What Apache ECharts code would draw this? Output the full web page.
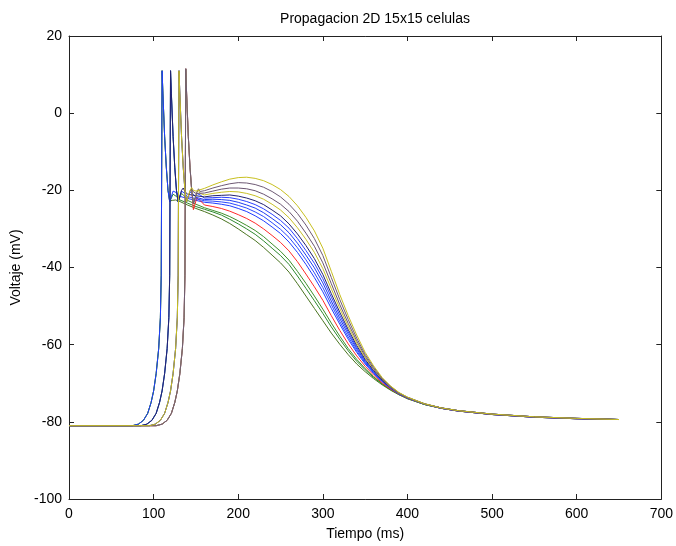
<!DOCTYPE html>
<html>
<head>
<meta charset="utf-8">
<script src="https://cdn.jsdelivr.net/npm/echarts@6/dist/echarts.min.js"></script>
<style>html,body{margin:0;padding:0;background:#fff}#c{width:676px;height:546px}</style>
</head>
<body>
<div id="c"></div>
<script>
const titulo = 'Propagacion 2D 15x15 celulas';
const xTicks = [0, 100, 200, 300, 400, 500, 600, 700];
const yTicks = [-100, -80, -60, -40, -20, 0, 20];

// Common time grid (ms) for plateau and repolarisation
const tMeseta = [160,170,180,190,200,210,220,230,240,250,260,270,280,290,300,310,320,330,340,350,360,370,380,390,400,420,440,460,500,550,600,650];

// Upstroke / early part of each cell: [tiempo, voltaje]
const inicio1 = [[0,-81],[95,-81],[102,-80.6],[108,-79.6],[113,-77.8],[117,-75],[120,-72],[123,-67.5],[126,-61],[128,-53],[129,-42],[130,11],[131,5],[133,-6],[135,-14],[137,-20],[139,-23],[141,-22.5],[143,-20],[145,-19.3],[147,-20],[150,-20.2]];
const inicio2 = [[0,-81],[103,-81],[110,-80.6],[116,-79.6],[121,-77.8],[125,-75],[128,-72],[131,-67.5],[134,-61],[136,-53],[137,-42],[138,11.5],[139,5],[141,-6],[143,-14],[145,-20],[147,-23.5],[149,-23],[151,-20.5],[153,-19.6],[155,-20.3]];
const inicio3 = [[0,-81],[95,-81],[102,-80.6],[108,-79.6],[113,-77.8],[117,-75],[120,-72],[123,-67.5],[126,-61],[128,-53],[129,-42],[130,11],[131,5],[133,-6],[135,-14],[137,-20],[139,-23],[141,-22.5],[143,-20.2],[145,-19.6],[147,-20.4],[150,-20.8]];
const inicio4 = [[0,-81],[103,-81],[110,-80.6],[116,-79.6],[121,-77.8],[125,-75],[128,-72],[131,-67.5],[134,-61],[136,-53],[137,-42],[138,11.5],[139,5],[141,-6],[143,-14],[145,-20],[147,-23.5],[149,-23],[151,-20.6],[153,-20],[155,-20.8]];
const inicio5 = [[0,-81],[85,-81],[92,-80.6],[98,-79.6],[103,-77.8],[107,-75],[110,-72],[113,-67.5],[116,-61],[118,-53],[119,-42],[120,11],[121,5],[123,-6],[125,-14],[127,-20],[129,-23],[131,-22.5],[133,-20],[135,-19.4],[137,-20.3],[140,-21],[150,-21.4]];
const inicio6 = [[0,-81],[103,-81],[110,-80.6],[116,-79.6],[121,-77.8],[125,-75],[128,-72],[131,-67.5],[134,-61],[136,-53],[137,-42],[138,11.5],[139,5],[141,-6],[143,-14],[145,-20],[147,-23.5],[149,-23],[151,-20.8],[153,-20.3],[155,-21.2]];
const inicio7 = [[0,-81],[95,-81],[102,-80.6],[108,-79.6],[113,-77.8],[117,-75],[120,-72],[123,-67.5],[126,-61],[128,-53],[129,-42],[130,11],[131,5],[133,-6],[135,-14],[137,-20],[139,-23],[141,-22.5],[143,-20.4],[145,-20],[147,-21],[150,-21.8]];
const inicio8 = [[0,-81],[85,-81],[92,-80.6],[98,-79.6],[103,-77.8],[107,-75],[110,-72],[113,-67.5],[116,-61],[118,-53],[119,-42],[120,11],[121,5],[123,-6],[125,-14],[127,-20],[129,-23],[131,-22.5],[133,-20.2],[135,-19.8],[137,-20.8],[140,-21.6],[150,-22.2]];
const inicio9 = [[0,-81],[75,-81],[82,-80.6],[88,-79.6],[93,-77.8],[97,-75],[100,-72],[103,-67.5],[106,-61],[108,-53],[109,-42],[110,11],[111,5],[113,-6],[115,-14],[117,-20],[119,-23],[121,-22.5],[123,-20.2],[125,-19.7],[127,-20.6],[130,-21.5],[140,-22.1],[150,-22.6]];
const inicio10 = [[0,-81],[103,-81],[110,-80.6],[116,-79.6],[121,-77.8],[125,-75],[128,-72],[131,-67.5],[134,-61],[136,-53],[137,-42],[138,11.5],[139,5],[141,-6],[143,-14],[145,-20],[147,-25],[149,-24.5],[151,-22],[153,-21.6],[155,-22.6]];
const inicio11 = [[0,-81],[85,-81],[92,-80.6],[98,-79.6],[103,-77.8],[107,-75],[110,-72],[113,-67.5],[116,-61],[118,-53],[119,-42],[120,11],[121,5],[123,-6],[125,-14],[127,-20],[129,-23],[131,-22.7],[133,-20.8],[135,-20.6],[137,-21.6],[140,-22.6],[150,-23.6]];
const inicio12 = [[0,-81],[75,-81],[82,-80.6],[88,-79.6],[93,-77.8],[97,-75],[100,-72],[103,-67.5],[106,-61],[108,-53],[109,-42],[110,11],[111,5],[113,-6],[115,-14],[117,-20],[119,-23],[121,-22.7],[123,-21],[125,-20.8],[127,-21.6],[130,-22.4],[140,-23.3],[150,-24.2]];
const inicio13 = [[0,-81],[75,-81],[82,-80.6],[88,-79.6],[93,-77.8],[97,-75],[100,-72],[103,-67.5],[106,-61],[108,-53],[109,-42],[110,11],[111,5],[113,-6],[115,-14],[117,-20],[119,-22.8],[122,-22.6],[126,-22.5],[130,-22.8],[140,-23.8],[150,-24.7]];

// Plateau / repolarisation voltages (mV) on tMeseta
const meseta1 = [-19.5,-18.6,-17.8,-17.1,-16.7,-16.6,-16.9,-17.5,-18.5,-19.8,-21.6,-24.0,-27.0,-30.5,-35.0,-41.0,-47.0,-52.5,-57.5,-62.0,-65.5,-68.5,-70.7,-72.4,-73.6,-75.3,-76.4,-77.1,-78.0,-78.7,-79.1,-79.4];
const meseta2 = [-20.1,-19.4,-18.8,-18.3,-18.0,-18.1,-18.5,-19.2,-20.3,-21.7,-23.6,-26.0,-29.0,-32.5,-36.9,-42.6,-48.3,-53.5,-58.3,-62.5,-65.8,-68.7,-70.8,-72.5,-73.6,-75.3,-76.4,-77.1,-78.0,-78.7,-79.1,-79.4];
const meseta3 = [-20.7,-20.2,-19.7,-19.4,-19.4,-19.6,-20.1,-21.0,-22.2,-23.6,-25.5,-28.0,-31.1,-34.5,-38.8,-44.2,-49.6,-54.5,-59.0,-63.0,-66.2,-68.9,-70.9,-72.5,-73.7,-75.3,-76.4,-77.1,-78.0,-78.7,-79.1,-79.4];
const meseta4 = [-21.2,-20.8,-20.5,-20.3,-20.4,-20.8,-21.4,-22.3,-23.6,-25.1,-27.1,-29.7,-32.7,-36.1,-40.3,-45.5,-50.6,-55.3,-59.6,-63.4,-66.4,-69.0,-71.0,-72.6,-73.7,-75.4,-76.4,-77.1,-78.0,-78.7,-79.1,-79.4];
const meseta5 = [-21.7,-21.4,-21.3,-21.2,-21.5,-22.0,-22.7,-23.7,-25.1,-26.6,-28.7,-31.3,-34.3,-37.7,-41.8,-46.8,-51.6,-56.1,-60.2,-63.8,-66.7,-69.2,-71.1,-72.6,-73.7,-75.4,-76.4,-77.1,-78.0,-78.7,-79.1,-79.4];
const meseta6 = [-22.0,-21.9,-21.8,-21.9,-22.3,-22.9,-23.7,-24.8,-26.2,-27.8,-29.8,-32.5,-35.6,-38.9,-42.9,-47.7,-52.4,-56.7,-60.7,-64.1,-66.9,-69.3,-71.2,-72.7,-73.8,-75.4,-76.4,-77.1,-78.0,-78.7,-79.1,-79.4];
const meseta7 = [-22.4,-22.3,-22.4,-22.6,-23.1,-23.8,-24.6,-25.8,-27.3,-28.9,-31.0,-33.7,-36.8,-40.1,-44.0,-48.7,-53.2,-57.3,-61.1,-64.4,-67.1,-69.4,-71.2,-72.7,-73.8,-75.4,-76.4,-77.1,-78.0,-78.7,-79.1,-79.4];
const meseta8 = [-22.7,-22.8,-23.0,-23.3,-23.9,-24.6,-25.6,-26.8,-28.4,-30.1,-32.2,-34.9,-38.0,-41.4,-45.2,-49.6,-54.0,-58.0,-61.6,-64.7,-67.3,-69.5,-71.3,-72.7,-73.8,-75.4,-76.5,-77.2,-78.1,-78.8,-79.2,-79.4];
const meseta9 = [-23.1,-23.3,-23.6,-24.0,-24.7,-25.5,-26.6,-27.9,-29.5,-31.2,-33.4,-36.1,-39.2,-42.6,-46.3,-50.6,-54.7,-58.6,-62.0,-65.0,-67.5,-69.6,-71.4,-72.8,-73.8,-75.4,-76.5,-77.2,-78.1,-78.8,-79.2,-79.4];
const meseta10 = [-23.8,-24.2,-24.7,-25.4,-26.3,-27.3,-28.5,-30.0,-31.7,-33.5,-35.7,-38.5,-41.7,-45.0,-48.5,-52.5,-56.3,-59.8,-62.9,-65.6,-67.9,-69.9,-71.5,-72.8,-73.9,-75.4,-76.5,-77.2,-78.1,-78.8,-79.2,-79.4];
const meseta11 = [-24.5,-25.2,-25.9,-26.8,-27.9,-29.1,-30.4,-32.0,-33.9,-35.8,-38.1,-41.0,-44.1,-47.4,-50.8,-54.4,-57.8,-61.0,-63.8,-66.2,-68.3,-70.1,-71.6,-72.9,-73.9,-75.5,-76.5,-77.2,-78.1,-78.8,-79.2,-79.4];
const meseta12 = [-24.9,-25.6,-26.4,-27.5,-28.7,-30.0,-31.4,-33.1,-35.0,-36.9,-39.2,-42.2,-45.4,-48.6,-51.9,-55.4,-58.6,-61.6,-64.3,-66.5,-68.5,-70.2,-71.7,-72.9,-74.0,-75.5,-76.5,-77.2,-78.1,-78.8,-79.2,-79.4];
const meseta13 = [-25.5,-26.4,-27.4,-28.6,-30.0,-31.5,-33.0,-34.8,-36.8,-38.8,-41.2,-44.2,-47.4,-50.6,-53.8,-57.0,-59.9,-62.6,-65.0,-67.0,-68.8,-70.4,-71.8,-73.0,-74.0,-75.5,-76.5,-77.2,-78.1,-78.8,-79.2,-79.4];

const inicios = [inicio13, inicio12, inicio11, inicio9, inicio10, inicio8, inicio7, inicio6, inicio5, inicio4, inicio3, inicio2, inicio1];
const mesetas = [meseta13, meseta12, meseta11, meseta9, meseta10, meseta8, meseta7, meseta6, meseta5, meseta4, meseta3, meseta2, meseta1];
const colores = ['#4a7420', '#2f8a2f', '#3d8f2a', '#1f3cff', '#ff2a2a', '#2a48ff', '#1f3cf0', '#2a40ff', '#22226e', '#c8c028', '#6a5470', '#6e5a74', '#c8c020'];

const chart = echarts.init(document.getElementById('c'), null, {renderer: 'canvas'});
const font = 'Liberation Sans, Arial, sans-serif';
const tickLine = {show: true, inside: true, length: 5, lineStyle: {color: '#222', width: 1}};
const axisLine = {show: true, onZero: false, lineStyle: {color: '#222', width: 1}};
chart.setOption({
  animation: false,
  backgroundColor: '#fff',
  title: {text: titulo, left: 370, top: 7, textAlign: 'center',
    textStyle: {fontFamily: font, fontSize: 14, fontWeight: 'normal', color: '#000'}},
  grid: {left: 69, right: 13, top: 36, bottom: 42, containLabel: false},
  xAxis: [
    {type: 'value', min: xTicks[0], max: xTicks[xTicks.length-1], interval: 100, position: 'bottom',
     name: 'Tiempo (ms)', nameLocation: 'middle', nameGap: 28,
     nameTextStyle: {fontFamily: font, fontSize: 14, color: '#000'},
     axisLine: axisLine, axisTick: tickLine, splitLine: {show: false},
     axisLabel: {fontFamily: font, fontSize: 14, color: '#000', margin: 8}},
    {type: 'value', min: xTicks[0], max: xTicks[xTicks.length-1], interval: 100, position: 'top',
     axisLine: axisLine, axisTick: tickLine, splitLine: {show: false}, axisLabel: {show: false}}
  ],
  yAxis: [
    {type: 'value', min: yTicks[0], max: yTicks[yTicks.length-1], interval: 20, position: 'left',
     name: 'Voltaje (mV)', nameLocation: 'middle', nameGap: 42, nameRotate: 90,
     nameTextStyle: {fontFamily: font, fontSize: 14, color: '#000'},
     axisLine: axisLine, axisTick: tickLine, splitLine: {show: false},
     axisLabel: {fontFamily: font, fontSize: 14, color: '#000', margin: 7}},
    {type: 'value', min: yTicks[0], max: yTicks[yTicks.length-1], interval: 20, position: 'right',
     axisLine: axisLine, axisTick: tickLine, splitLine: {show: false}, axisLabel: {show: false}}
  ],
  series: inicios.map((ini, i) => ({
    type: 'line',
    data: ini.concat(tMeseta.map((t, k) => [t, mesetas[i][k]])),
    xAxisIndex: 0, yAxisIndex: 0,
    showSymbol: false, symbol: 'none', smooth: false,
    lineStyle: {color: colores[i], width: 1}
  }))
});
</script>
</body>
</html>
